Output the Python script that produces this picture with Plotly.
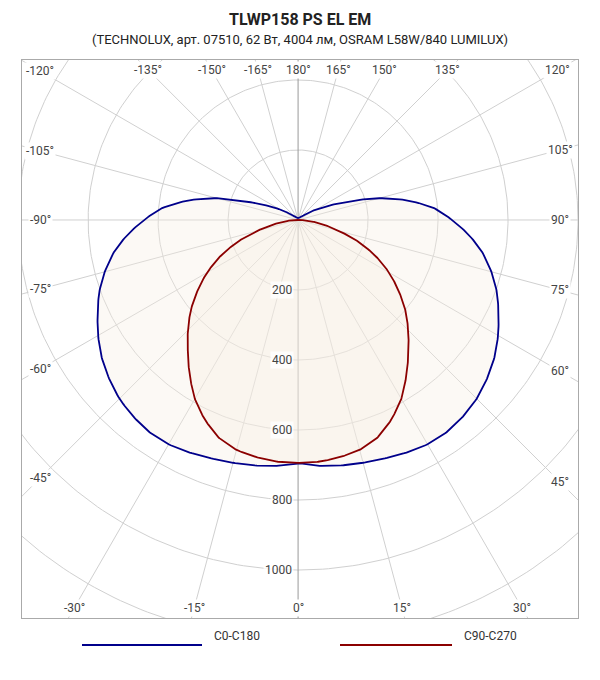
import numpy as np
import plotly.graph_objects as go

# Luminous intensity (cd) by gamma angle (deg), symmetric curves
angles_c0 = [0,5,10,15,20,25,30,35,40,45,50,55,60,65,70,75,80,85,90,95,100,105,110,115,120,125,130,140,150,165,180]
cd_c0 =     [694,705,712,718,725,733,740,740,733,722,705,685,660,632,605,572,535,490,440,390,320,240,150,95,60,35,20,10,8,6,5]
angles_c90 = [0,5,10,15,20,25,30,35,40,45,50,55,60,65,70,75,80,85,90]
cd_c90 =     [694,693,688,680,662,630,590,540,490,445,400,350,300,245,185,120,70,30,0]
ring_values = [200,400,600,800,1000,1200,1400]
ring_labels = ["200","400","600","800","1000"]
angle_ticks = list(range(-180,181,15))
series_names = ["C0-C180","C90-C270"]
colors = ["#00008b","#8b0000"]

XR = [-789, 800]
YR = [1137, -457]  # y positive downward

def full_curve(a, v):
    a = np.array(a, float); v = np.array(v, float)
    aa = np.concatenate([-a[::-1], a[1:]])
    vv = np.concatenate([v[::-1], v[1:]])
    fine = np.linspace(aa.min(), aa.max(), 721)
    vf = np.interp(fine, aa, vv)
    t = np.radians(fine)
    return vf*np.sin(t), vf*np.cos(t)

fig = go.Figure()
grid = "#d0d0d0"
th = np.linspace(0, 2*np.pi, 361)
for r in ring_values:
    fig.add_trace(go.Scatter(x=r*np.sin(th), y=r*np.cos(th), mode="lines",
                             line=dict(color=grid, width=1), hoverinfo="skip", showlegend=False))
for a in range(0, 360, 15):
    t = np.radians(a)
    col = "#999999" if a in (0, 180) else grid
    fig.add_trace(go.Scatter(x=[0, 2500*np.sin(t)], y=[0, 2500*np.cos(t)], mode="lines",
                             line=dict(color=col, width=1), hoverinfo="skip", showlegend=False))
for a, v, c, n in [(angles_c0, cd_c0, colors[0], series_names[0]), (angles_c90, cd_c90, colors[1], series_names[1])]:
    x, y = full_curve(a, v)
    fig.add_trace(go.Scatter(x=x, y=y, mode="lines", fill="toself", fillcolor="rgba(245,238,225,0.35)",
                             line=dict(color=c, width=1.8), name=n, showlegend=False))

ann = []
for lab, r in zip(ring_labels, ring_values):
    ann.append(dict(x=-12, y=r, text=lab, showarrow=False, xanchor="right", yanchor="middle",
                    font=dict(size=12, color="#444"), bgcolor="rgba(255,255,255,0.8)"))
px = 2.858
xmin, xmax = XR[0]+18*px, XR[1]-18*px
ymin, ymax = YR[1]+10*px, YR[0]-10*px
for a in angle_ticks:
    if a == -180: continue
    t = np.radians(a); dx, dy = np.sin(t), np.cos(t)
    ts = []
    if dx > 1e-9: ts.append(xmax/dx)
    if dx < -1e-9: ts.append(xmin/dx)
    if dy > 1e-9: ts.append(ymax/dy)
    if dy < -1e-9: ts.append(ymin/dy)
    s = min(ts)
    ann.append(dict(x=s*dx, y=s*dy, text=f"{a}°", showarrow=False, font=dict(size=12, color="#444"),
                    bgcolor="white"))

ly = -(645-618)/558
fig.update_layout(
    width=600, height=680, margin=dict(l=14, r=30, t=52, b=70),
    paper_bgcolor="white", plot_bgcolor="white",
    font=dict(family="Roboto", color="#333"),
    xaxis=dict(range=XR, showgrid=False, zeroline=False, showticklabels=False, showline=True,
               linecolor="#aaaaaa", mirror=True, fixedrange=True),
    yaxis=dict(range=YR, showgrid=False, zeroline=False, showticklabels=False, showline=True,
               linecolor="#aaaaaa", mirror=True, fixedrange=True),
    annotations=ann + [
        dict(x=0.5, y=1, xref="paper", yref="paper", yshift=52, text="<b>TLWP158 PS EL EM</b>",
             showarrow=False, font=dict(size=16, color="#222")),
        dict(x=0.5, y=1, xref="paper", yref="paper", yshift=30,
             text="(TECHNOLUX, арт. 07510, 62 Вт, 4004 лм, OSRAM L58W/840 LUMILUX)",
             showarrow=False, font=dict(size=13, color="#222")),
        dict(x=(212-22)/556, y=ly, xref="paper", yref="paper", text=series_names[0],
             showarrow=False, xanchor="left", font=dict(size=12, color="#333")),
        dict(x=(462-22)/556, y=ly, xref="paper", yref="paper", text=series_names[1],
             showarrow=False, xanchor="left", font=dict(size=12, color="#333")),
    ],
    shapes=[
        dict(type="line", xref="paper", yref="paper", x0=(82-22)/556, x1=(202-22)/556,
             y0=ly, y1=ly, line=dict(color=colors[0], width=2)),
        dict(type="line", xref="paper", yref="paper", x0=(340-22)/556, x1=(452-22)/556,
             y0=ly, y1=ly, line=dict(color=colors[1], width=2)),
    ],
)
fig.write_html("out.html")
